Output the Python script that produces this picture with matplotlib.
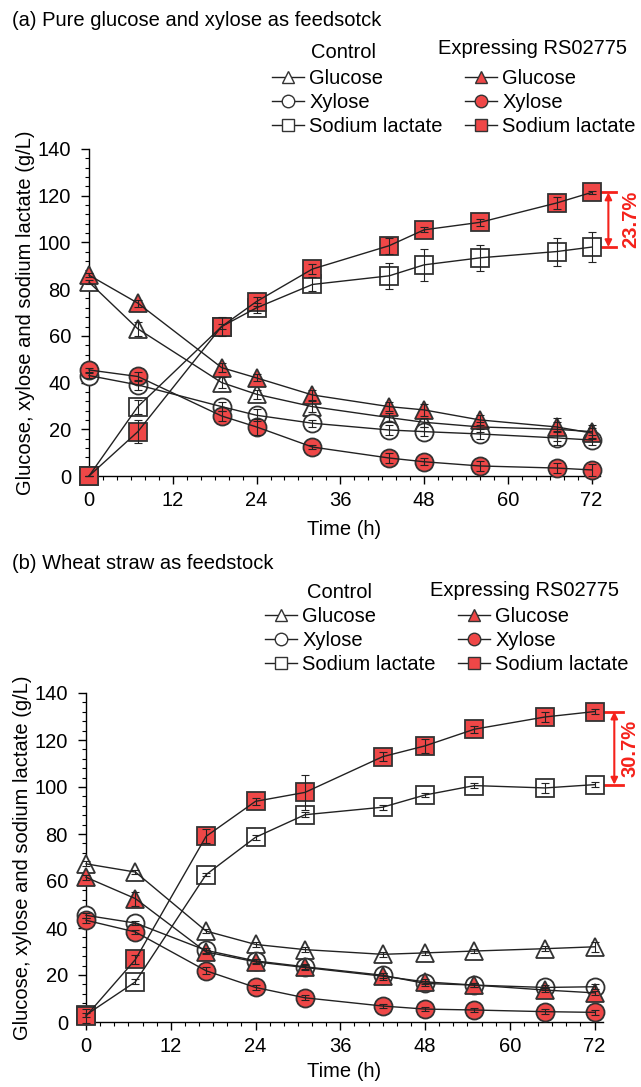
import matplotlib
matplotlib.use("Agg")
import matplotlib.pyplot as plt
from matplotlib.ticker import MultipleLocator

plt.rcParams['font.family'] = ['Liberation Sans', 'DejaVu Sans']
plt.rcParams['font.size'] = 14.5

# (a) Pure glucose and xylose
time_a = [0, 7, 19, 24, 32, 43, 48, 56, 67, 72]
ctrl_glu_a = [83, 63, 40, 35, 29.7, 25, 23, 21, 20, 19]
ctrl_xyl_a = [43, 39, 29.7, 26, 22.6, 19.7, 19, 18, 16.3, 15.4]
ctrl_lac_a = [0, 29.7, 64, 72, 82, 85.7, 90.4, 93.4, 96.1, 98]
exp_glu_a = [86, 74, 46.4, 42, 34.7, 29.7, 28.3, 24, 21, 18.4]
exp_xyl_a = [45.4, 42.6, 25.7, 21, 12.4, 7.7, 6.1, 4.3, 3.4, 2.6]
exp_lac_a = [0, 19, 64, 74.7, 88.6, 98.6, 105.4, 108.6, 116.9, 121.4]

ctrl_glu_a_err = [1, 3, 2.5, 2, 2.5, 2, 2, 2, 5, 3]
ctrl_xyl_a_err = [1, 2, 2, 2.5, 1.5, 2, 2, 2, 3, 2]
ctrl_lac_a_err = [0, 3, 1, 2, 3, 5.5, 7, 5.5, 6, 6.5]
exp_glu_a_err = [1, 1.5, 2, 1.5, 2, 2, 2.5, 2, 2, 2]
exp_xyl_a_err = [1, 2, 2, 3.5, 1, 2, 1.5, 2, 2, 2.5]
exp_lac_a_err = [0, 5, 4, 2, 2, 3.5, 1, 1.5, 2.5, 0.5]

# (b) Wheat straw
time_b = [0, 7, 17, 24, 31, 42, 48, 55, 65, 72]
ctrl_glu_b = [67.3, 63.8, 38.7, 33, 30.8, 28.8, 29.4, 30.2, 31.2, 32]
ctrl_xyl_b = [45.4, 42.1, 30.5, 26, 23.5, 19.9, 16.4, 15.7, 14.7, 15]
ctrl_lac_b = [3, 17.1, 62.7, 78.6, 88.2, 91.4, 96.6, 100.6, 99.6, 101]
exp_glu_b = [61.6, 52.5, 29.8, 25.6, 23.2, 19.5, 17.1, 15.7, 13.6, 12.4]
exp_xyl_b = [43.3, 38.3, 21.8, 14.7, 10.3, 6.8, 5.5, 5.1, 4.4, 4.1]
exp_lac_b = [2.5, 26.6, 79, 93.9, 97.7, 112.9, 117.5, 124.6, 129.8, 132.1]

ctrl_glu_b_err = [1, 1, 1, 1, 1, 1, 1, 1, 1, 2]
ctrl_xyl_b_err = [1, 1, 1, 1, 1, 1, 1, 1, 1, 1]
ctrl_lac_b_err = [1, 1, 0.5, 1, 1, 1, 1, 1, 2, 1]
exp_glu_b_err = [1, 3, 1, 1, 1, 1.5, 1, 1, 1, 1]
exp_xyl_b_err = [1, 1, 1.5, 1, 1, 1, 1, 1, 1, 1]
exp_lac_b_err = [3, 2, 3, 1.5, 7.5, 2, 3, 1.5, 2, 1]

series_labels = ["Glucose", "Xylose", "Sodium lactate"]
markers = ['^', 'o', 's']
red = '#EF4747'
ann_red = '#F5221B'

W, H = 641, 1087


def fx(px):
    return px / W


def fy(py):
    return 1 - py / H


fig = plt.figure(figsize=(W / 100, H / 100), dpi=100)


def draw_panel(ax, t, ctrl, exp, ctrl_err, exp_err, pct, xs, xpad):
    handles = []
    groups = [(ctrl, ctrl_err, 'white'), (exp, exp_err, red)]
    for vals, errs, face in groups:
        for y, e, m in zip(vals, errs, markers):
            ax.plot(t, y, linestyle='none', marker=m, markersize=13,
                    markerfacecolor=face, markeredgecolor='#333333',
                    markeredgewidth=1.3, zorder=3, clip_on=False)
            ax.plot(t, y, color='#222222', lw=1.0, zorder=4, clip_on=False)
            ax.errorbar(t, y, yerr=e, fmt='none', ecolor='#222222',
                        elinewidth=0.8, capsize=3, capthick=0.8, zorder=5,
                        clip_on=False)
            h, = ax.plot([], [], color='#222222', lw=1.0, marker=m,
                         markersize=9, markerfacecolor=face,
                         markeredgecolor='#333333', markeredgewidth=1.0)
            handles.append(h)

    ax.set_xlim(0, 73.2)
    ax.set_ylim(0, 140)
    ax.xaxis.set_major_locator(MultipleLocator(12))
    ax.xaxis.set_minor_locator(MultipleLocator(2))
    ax.yaxis.set_major_locator(MultipleLocator(20))
    ax.yaxis.set_minor_locator(MultipleLocator(4))
    ax.tick_params(which='major', length=6, width=1, labelsize=14.5)
    ax.tick_params(axis='x', pad=5)
    ax.tick_params(axis='y', pad=7)
    ax.tick_params(which='minor', length=3, width=0.8)
    for s in ['top', 'right']:
        ax.spines[s].set_visible(False)
    for s in ['left', 'bottom']:
        ax.spines[s].set_linewidth(1.0)
    ax.set_xlabel("Time (h)", fontsize=14.5, labelpad=xpad)
    ax.set_ylabel("Glucose, xylose and sodium lactate (g/L)", fontsize=14.5,
                  labelpad=2)

    # difference bracket at the last time point
    top = exp[2][-1]
    bot = ctrl[2][-1]
    xa, xl, xr, xt = xs
    ax.annotate('', xy=(xa, top), xytext=(xa, bot),
                arrowprops=dict(arrowstyle='<|-|>', color=ann_red, lw=1.5,
                                shrinkA=0, shrinkB=0, mutation_scale=10),
                annotation_clip=False)
    for v in (top, bot):
        ax.plot([xl, xr], [v, v], color=ann_red, lw=2, clip_on=False)
    ax.text(xt, (top + bot) / 2, pct, rotation=90, color=ann_red,
            fontsize=14.5, fontweight='bold', ha='center', va='center')
    return handles


# panel (a)
ax1 = fig.add_axes([fx(89), fy(476), fx(600) - fx(89), fy(149) - fy(476)])
h1 = draw_panel(ax1, time_a,
                [ctrl_glu_a, ctrl_xyl_a, ctrl_lac_a],
                [exp_glu_a, exp_xyl_a, exp_lac_a],
                [ctrl_glu_a_err, ctrl_xyl_a_err, ctrl_lac_a_err],
                [exp_glu_a_err, exp_xyl_a_err, exp_lac_a_err],
                "23.7%", (74.4, 73.3, 75.5, 77.6), 7)

# panel (b)
ax2 = fig.add_axes([fx(86), fy(1022), fx(603) - fx(86), fy(693) - fy(1022)])
h2 = draw_panel(ax2, time_b,
                [ctrl_glu_b, ctrl_xyl_b, ctrl_lac_b],
                [exp_glu_b, exp_xyl_b, exp_lac_b],
                [ctrl_glu_b_err, ctrl_xyl_b_err, ctrl_lac_b_err],
                [exp_glu_b_err, exp_xyl_b_err, exp_lac_b_err],
                "30.7%", (74.8, 73.4, 76.0, 77.0), 4)

fig.text(fx(12), fy(21), "(a) Pure glucose and xylose as feedsotck",
         fontsize=14.5, ha='left', va='center')
fig.text(fx(12), fy(563), "(b) Wheat straw as feedstock",
         fontsize=14.5, ha='left', va='center')

# legends
for handles, x0, y0, xc, yc, xe, ye in [(h1, 272, 69, 344, 53, 532, 48),
                                         (h2, 265, 607, 339, 593, 524, 591)]:
    fig.legend(handles, series_labels * 2, ncol=2, loc='upper left',
               bbox_to_anchor=(fx(x0), fy(y0)), frameon=False, fontsize=14.5,
               handlelength=1.6, handletextpad=0.25, labelspacing=0.26,
               columnspacing=1.1, borderpad=0, borderaxespad=0)
    fig.text(fx(xc), fy(yc), "Control", fontsize=14.5, ha='center',
             va='center')
    fig.text(fx(xe), fy(ye), "Expressing RS02775", fontsize=14.5,
             ha='center', va='center')

fig.savefig("out.png", dpi=100)
